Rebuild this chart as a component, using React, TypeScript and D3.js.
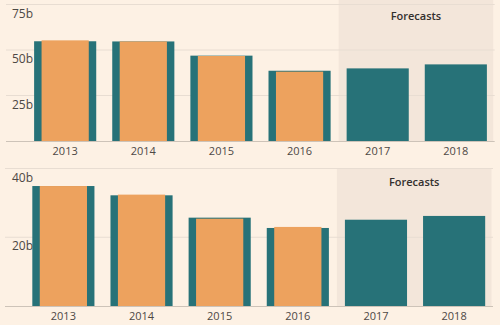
import React from "react";
import * as d3 from "d3";

const years = ["2013", "2014", "2015", "2016", "2017", "2018"];
const forecastYears = ["2017", "2018"];
const topTotal = [54.8, 54.7, 46.9, 38.6, 39.9, 42.1];
const topInner = [55.3, 54.7, 46.7, 38.1, null, null];
const topTicks = [25, 50, 75];
const bottomTotal = [34.9, 32.2, 25.7, 22.7, 25.1, 26.2];
const bottomInner = [34.9, 32.4, 25.4, 23.0, null, null];
const bottomTicks = [20, 40];

const W = 500;
const H = 325;
const TEAL = "#277278";
const ORANGE = "#EDA25E";
const BG = "#FDF1E4";
const SHADE = "#F3E6DA";
const GRID = "#E8DDD2";
const AXIS = "#CDC3B8";
const FONT = "'Open Sans', 'Noto Sans', sans-serif";

type PanelProps = {
  total: number[];
  inner: (number | null)[];
  ticks: number[];
  yMax: number;
  yTop: number;
  yBase: number;
  x0: number;
  x1: number;
  lineX0: number;
  titleY: number;
  shadeTop: number;
};

function Panel({ total, inner, ticks, yMax, yTop, yBase, x0, x1, lineX0, titleY, shadeTop }: PanelProps) {
  const x = d3.scaleBand<string>().domain(years).range([x0, x1]).paddingInner(0.205).paddingOuter(0.1);
  const y = d3.scaleLinear().domain([0, yMax]).range([yBase, yTop]);
  const bw = x.bandwidth();
  const iw = bw * 0.76;
  const lastHist = x(years[3])! + bw;
  const firstFc = x(forecastYears[0])!;
  const shadeX = (lastHist + firstFc) / 2;
  return (
    <g>
      <rect x={shadeX} y={shadeTop} width={x1 - 1.5 - shadeX} height={yBase - shadeTop} fill={SHADE} />
      {ticks.map((t) => (
        <g key={t}>
          <line x1={lineX0} x2={x1} y1={y(t)} y2={y(t)} stroke={GRID} strokeWidth={1} />
          <text x={12} y={y(t) + 13} fontSize={12} fill="#4D4845" fontFamily={FONT}>
            {t}b
          </text>
        </g>
      ))}
      <text
        x={shadeX + (x1 - 1.5 - shadeX) / 2}
        y={titleY}
        textAnchor="middle"
        fontSize={11}
        fontWeight={600}
        fill="#33302E"
        fontFamily={FONT}
      >
        Forecasts
      </text>
      {years.map((yr, i) => (
        <g key={yr}>
          <rect x={x(yr)} y={y(total[i])} width={bw} height={yBase - y(total[i])} fill={TEAL} />
          {inner[i] != null && (
            <rect
              x={x(yr)! + (bw - iw) / 2}
              y={y(inner[i] as number)}
              width={iw}
              height={yBase - y(inner[i] as number)}
              fill={ORANGE}
            />
          )}
          <text
            x={x(yr)! + bw / 2}
            y={yBase + 14}
            textAnchor="middle"
            fontSize={11}
            fill="#4D4845"
            fontFamily={FONT}
          >
            {yr}
          </text>
        </g>
      ))}
      <line x1={lineX0} x2={x1} y1={yBase + 0.5} y2={yBase + 0.5} stroke={AXIS} strokeWidth={1} />
    </g>
  );
}

export default function App() {
  return (
    <svg
      width={W}
      height={H}
      style={{ position: "absolute", left: 0, top: 0, background: BG }}
    >
      <rect x={0} y={0} width={W} height={H} fill={BG} />
      <Panel
        total={topTotal}
        inner={topInner}
        ticks={topTicks}
        yMax={75}
        yTop={4.5}
        yBase={141}
        x0={26.3}
        x1={494.7}
        lineX0={6}
        titleY={20}
        shadeTop={0}
      />
      <Panel
        total={bottomTotal}
        inner={bottomInner}
        ticks={bottomTicks}
        yMax={40}
        yTop={168.5}
        yBase={306}
        x0={24.5}
        x1={493}
        lineX0={5}
        titleY={186}
        shadeTop={168}
      />
    </svg>
  );
}
